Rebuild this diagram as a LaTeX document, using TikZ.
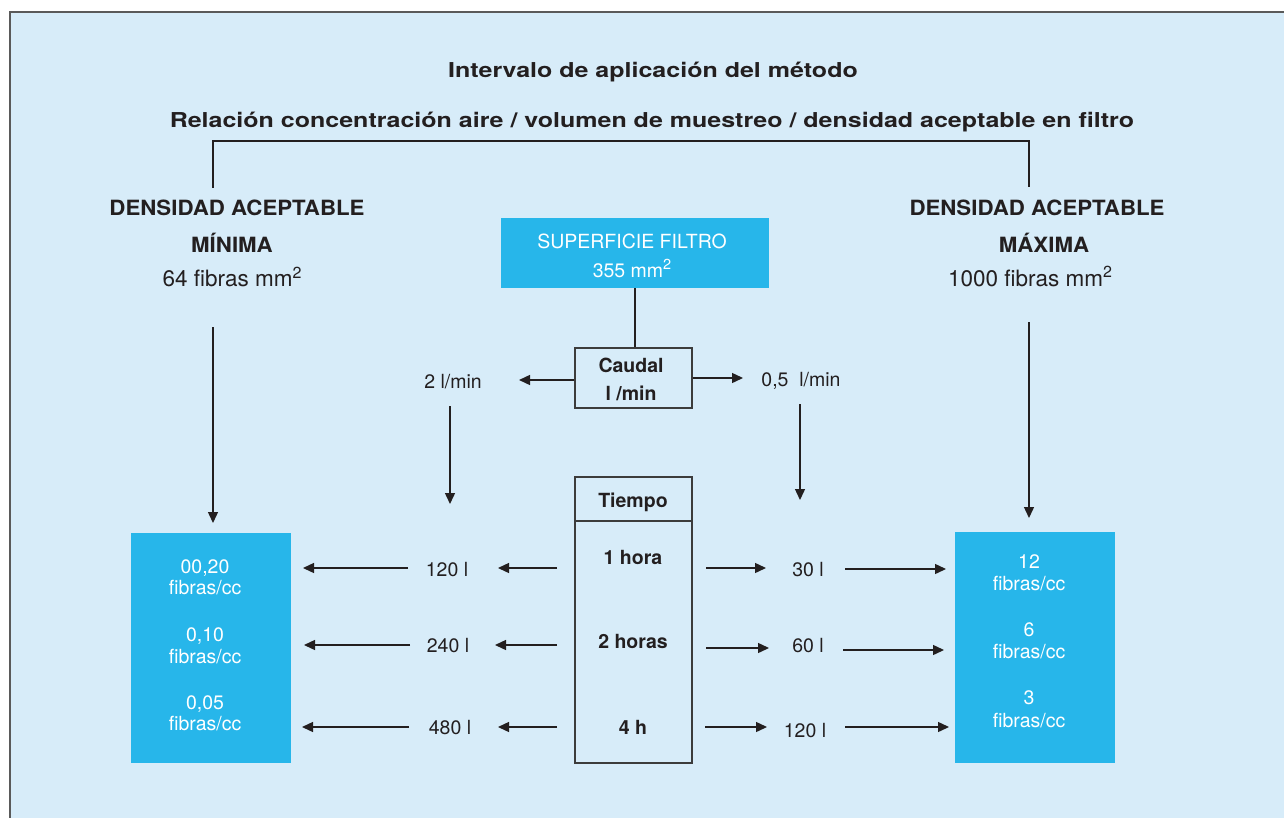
\documentclass[tikz,border=0pt]{standalone}
\usepackage{fontspec}
\setmainfont{TeX Gyre Heros}
\newfontfamily\titlefont[FakeStretch=1.22]{TeX Gyre Heros}
\newfontfamily\headfont[FakeStretch=1.06]{TeX Gyre Heros}
\usetikzlibrary{arrows.meta}
\definecolor{bgblue}{HTML}{D7ECF9}
\definecolor{cyanbox}{HTML}{27B6EA}
\definecolor{ink}{HTML}{231F20}
\definecolor{framegray}{HTML}{5A5A5A}
\definecolor{boxline}{HTML}{3C3C3C}
\newcommand\supertwo{\raisebox{0.36em}{\fontsize{14.5}{14.5}\selectfont 2}}
\newcommand\supertwobig{\raisebox{0.36em}{\fontsize{16}{16}\selectfont 2}}
\begin{document}
\begin{tikzpicture}[x=1pt,y=-1pt,
  titletxt/.style={font=\titlefont\fontsize{20.5}{24}\selectfont\bfseries, text=ink, inner sep=0, anchor=base},
  headtxt/.style={font=\headfont\fontsize{21}{24}\selectfont\bfseries, text=ink, inner sep=0, anchor=base},
  regtxt/.style={font=\fontsize{19.5}{22}\selectfont, text=ink, inner sep=0, anchor=base},
  bigregtxt/.style={font=\fontsize{22.5}{26}\selectfont, text=ink, inner sep=0, anchor=base},
  boldtxt/.style={font=\fontsize{19.5}{22}\selectfont\bfseries, text=ink, inner sep=0, anchor=base},
  whitetxt/.style={font=\fontsize{19.5}{22}\selectfont, text=white, inner sep=0, anchor=base},
  conn/.style={draw=ink, line width=1.4pt},
  arr/.style={conn, -{Triangle[length=11pt,width=10pt]}},
  bluebox/.style={fill=cyanbox, draw=none, inner sep=0},
  linebox/.style={draw=boxline, line width=1.8pt, inner sep=0}]

\useasboundingbox (0,0) rectangle (1284,818);
\fill[white] (0,0) rectangle (1284,818);
\fill[bgblue] (10,12) rectangle (1284,818);
\draw[framegray, line width=1.5pt] (10,818) -- (10,12) -- (1284,12);

% titles
\node[titletxt] (t1) at (653,78) {Intervalo de aplicación del método};
\node[titletxt] (t2) at (652,128) {Relación concentración aire / volumen de muestreo / densidad aceptable en filtro};

% bracket
\coordinate (bl) at (213,188);
\coordinate (btl) at (213,141);
\coordinate (btr) at (1029,141);
\coordinate (br) at (1029,187);
\draw[conn] (bl) -- (btl) -- (btr) -- (br);

% left header
\node[headtxt] (lh1) at (237,216) {DENSIDAD ACEPTABLE};
\node[headtxt] (lh2) at (232,253) {MÍNIMA};
\node[bigregtxt] (lh3) at (232,287) {64 fibras mm\supertwobig};

% right header
\node[headtxt] (rh1) at (1037,216) {DENSIDAD ACEPTABLE};
\node[headtxt] (rh2) at (1044,252) {MÁXIMA};
\node[bigregtxt] (rh3) at (1030,286) {1000 fibras mm\supertwobig};

% superficie filtro
\node[bluebox, minimum width=268pt, minimum height=70pt] (sup) at (635,253) {};
\node[whitetxt] (sup1) at (632,248) {SUPERFICIE FILTRO};
\node[whitetxt] (sup2) at (632,277) {355 mm\supertwo};

% caudal
\node[linebox, minimum width=117pt, minimum height=60pt] (caudal) at (633.5,378) {};
\node[boldtxt] (cau1) at (631,372) {Caudal};
\node[boldtxt] (cau2) at (631,400) {l /min};
\draw[conn] (sup.south) -- (sup.south |- caudal.north);

\coordinate (cl) at (519,380);
\coordinate (cr) at (743,378);
\draw[arr] (caudal.west |- cl) -- (cl);
\draw[arr] (caudal.east |- cr) -- (cr);
\node[regtxt] (q2) at (453,388) {2 l/min};
\node[regtxt] (q05) at (801,386) {0,5\ \ l/min};

\coordinate (d1s) at (450,406);
\coordinate (d1e) at (450,504);
\coordinate (d2s) at (800,404);
\coordinate (d2e) at (800,500);
\draw[arr] (d1s) -- (d1e);
\draw[arr] (d2s) -- (d2e);

% big down arrows
\coordinate (dls) at (213,327);
\coordinate (dle) at (213,523);
\coordinate (drs) at (1029,322);
\coordinate (dre) at (1029,518);
\draw[arr] (dls) -- (dle);
\draw[arr] (drs) -- (dre);

% tiempo
\node[linebox, minimum width=117pt, minimum height=286pt] (tiempo) at (633.5,620) {};
\coordinate (tdl) at (575,521);
\draw[draw=boxline, line width=1.8pt] (tdl) -- (tdl -| tiempo.east);
\node[boldtxt] (tie) at (633,507) {Tiempo};
\node[boldtxt] (h1) at (633,564) {1 hora};
\node[boldtxt] (h2) at (633,648) {2 horas};
\node[boldtxt] (h4) at (633,734) {4 h};

% left result box
\node[bluebox, minimum width=160pt, minimum height=230pt] (lbox) at (211,648) {};
\node[whitetxt] (la1) at (205,573) {00,20};
\node[whitetxt] (la2) at (205,594) {fibras/cc};
\node[whitetxt] (lb1) at (205,641) {0,10};
\node[whitetxt] (lb2) at (205,663) {fibras/cc};
\node[whitetxt] (lc1) at (205,709) {0,05};
\node[whitetxt] (lc2) at (205,730) {fibras/cc};

% right result box
\node[bluebox, minimum width=160pt, minimum height=231pt] (rbox) at (1035,647.5) {};
\node[whitetxt] (ra1) at (1029,568) {12};
\node[whitetxt] (ra2) at (1029,590) {fibras/cc};
\node[whitetxt] (rb1) at (1029,636) {6};
\node[whitetxt] (rb2) at (1029,658) {fibras/cc};
\node[whitetxt] (rc1) at (1029,704) {3};
\node[whitetxt] (rc2) at (1029,727) {fibras/cc};

% left rows
\node[regtxt] (v120) at (447,576) {120 l};
\node[regtxt] (v240) at (448,652) {240 l};
\node[regtxt] (v480) at (450,734) {480 l};
\coordinate (l1a) at (557,568); \coordinate (l1b) at (498,568);
\coordinate (l1c) at (408,568); \coordinate (l1d) at (303,568);
\coordinate (l2a) at (557,645); \coordinate (l2b) at (495,645);
\coordinate (l2c) at (410,645); \coordinate (l2d) at (304,645);
\coordinate (l3a) at (557,727); \coordinate (l3b) at (498,727);
\coordinate (l3c) at (409,727); \coordinate (l3d) at (302,727);
\draw[arr] (l1a) -- (l1b); \draw[arr] (l1c) -- (l1d);
\draw[arr] (l2a) -- (l2b); \draw[arr] (l2c) -- (l2d);
\draw[arr] (l3a) -- (l3b); \draw[arr] (l3c) -- (l3d);

% right rows
\node[regtxt] (v30) at (808,576) {30 l};
\node[regtxt] (v60) at (808,652) {60 l};
\node[regtxt] (v120r) at (805,737) {120 l};
\coordinate (r1a) at (706,568); \coordinate (r1b) at (766,568);
\coordinate (r1c) at (845,569); \coordinate (r1d) at (946,569);
\coordinate (r2a) at (706,648); \coordinate (r2b) at (769,648);
\coordinate (r2c) at (843,650); \coordinate (r2d) at (944,650);
\coordinate (r3a) at (705,727); \coordinate (r3b) at (767,727);
\coordinate (r3c) at (845,727); \coordinate (r3d) at (949,727);
\draw[arr] (r1a) -- (r1b); \draw[arr] (r1c) -- (r1d);
\draw[arr] (r2a) -- (r2b); \draw[arr] (r2c) -- (r2d);
\draw[arr] (r3a) -- (r3b); \draw[arr] (r3c) -- (r3d);
\end{tikzpicture}
\end{document}
